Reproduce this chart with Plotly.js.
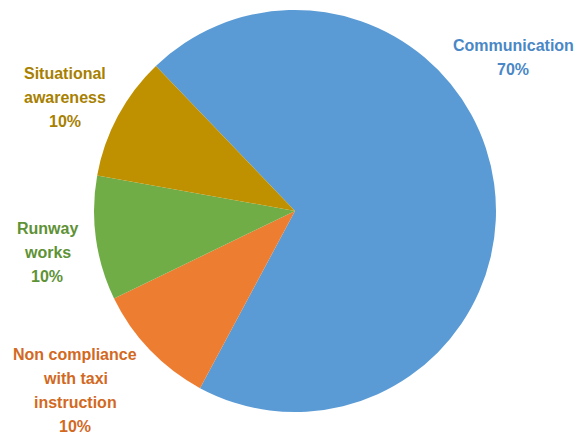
<!DOCTYPE html>
<html>
<head>
<meta charset="utf-8">
<script src="https://cdn.plot.ly/plotly-3.0.1.min.js"></script>
<style>html,body{margin:0;padding:0;background:#fff;}#chart{width:579px;height:437px;}</style>
</head>
<body>
<div id="chart"></div>
<script>
const categories = ["Communication", "Non compliance with taxi instruction", "Runway works", "Situational awareness"];
const labelLines = [["Communication"], ["Non compliance", "with taxi", "instruction"], ["Runway", "works"], ["Situational", "awareness"]];
const values = [70, 10, 10, 10];
const sliceColors = ["#5B9BD5", "#ED7D31", "#70AD47", "#BF9000"];
const textColors = ["#4A87C6", "#D2691F", "#5E9236", "#A88000"];

// label anchor positions (pixels, top-left origin): center x, first line y
const W = 579, H = 437;
const labelPos = [[513, 45], [75, 354], [47, 228], [65, 73]];
const lineGap = 24;

const annotations = [];
categories.forEach((c, i) => {
  const lines = labelLines[i].concat([values[i] + "%"]);
  lines.forEach((t, k) => {
    annotations.push({
      text: "<b>" + t + "</b>",
      x: labelPos[i][0] / W,
      y: 1 - (labelPos[i][1] + k * lineGap) / H,
      xref: "paper", yref: "paper",
      xanchor: "center", yanchor: "middle",
      showarrow: false,
      font: {family: "Liberation Sans, Arial, sans-serif", size: 16, color: textColors[i]}
    });
  });
});

const trace = {
  type: "pie",
  labels: categories,
  values: values,
  sort: false,
  direction: "clockwise",
  rotation: -43.8,
  marker: {colors: sliceColors, line: {width: 0}},
  textinfo: "none",
  hoverinfo: "label+percent",
  domain: {x: [94 / W, 496 / W], y: [(H - 412) / H, (H - 10) / H]},
  showlegend: false
};

Plotly.newPlot("chart", [trace], {
  width: W, height: H,
  margin: {l: 0, r: 0, t: 0, b: 0},
  paper_bgcolor: "#ffffff",
  annotations: annotations,
  showlegend: false
}, {displayModeBar: false, staticPlot: true});
</script>
</body>
</html>
